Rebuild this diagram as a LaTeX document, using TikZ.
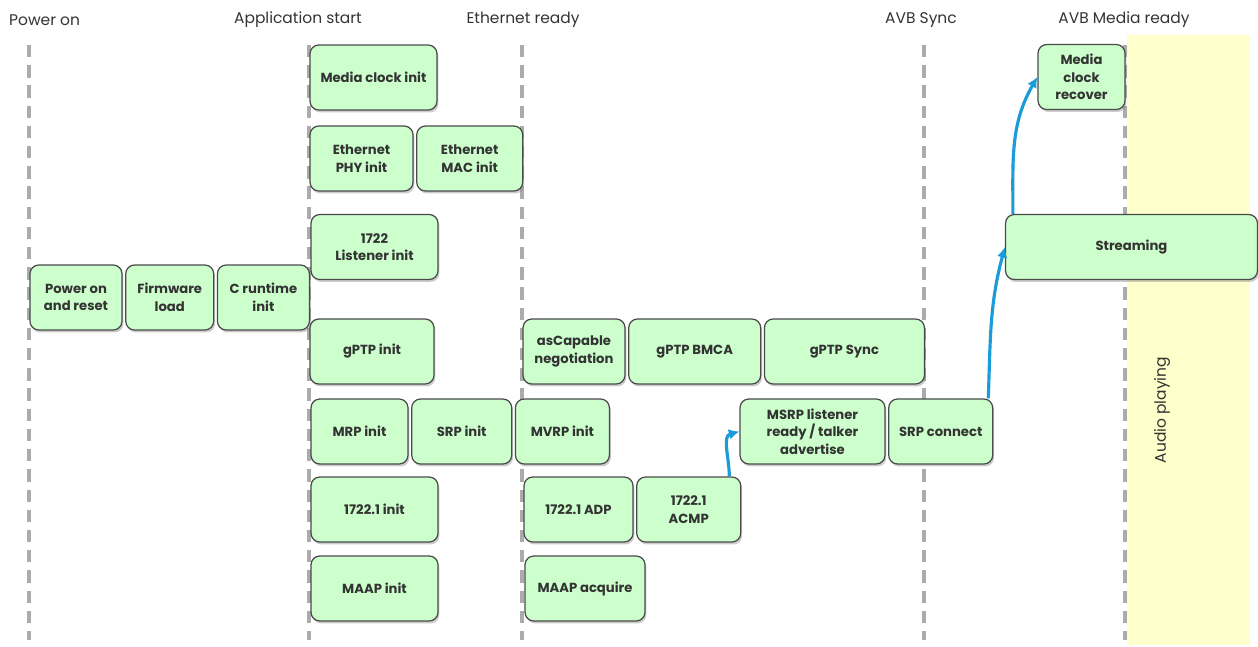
\documentclass[tikz,border=0pt]{standalone}
\usepackage{fontspec}
\setmainfont{Poppins}
\usetikzlibrary{arrows.meta, positioning, shadows}
\definecolor{boxfill}{HTML}{CCFFCC}
\definecolor{boxline}{HTML}{4A4A4A}
\definecolor{arrblue}{HTML}{1B9BD9}
\definecolor{bandyellow}{HTML}{FFFFCC}
\definecolor{phasegray}{HTML}{ABABAB}
\definecolor{txtgray}{HTML}{333333}

\begin{document}
\begin{tikzpicture}[x=0.02cm, y=-0.02cm,
    box/.style={draw=boxline, fill=boxfill, rounded corners=5pt, line width=0.7pt,
      align=center, inner sep=1pt, text=txtgray, minimum height=1.3cm,
      font=\fontsize{7.5}{10}\selectfont\bfseries,
      drop shadow={shadow xshift=0.8pt, shadow yshift=-1.4pt, opacity=0.4}},
    arr/.style={-{Latex[length=6pt, width=6pt]}, line width=1.8pt, arrblue},
    lab/.style={font=\fontsize{8.8}{10}\selectfont, text=txtgray},
    phase/.style={phasegray, line width=1.8pt, dash pattern=on 7pt off 4.5pt}
  ]
    \useasboundingbox (0,0) rectangle (1258,646);
    % audio band
    \fill[bandyellow] (1127,35) rectangle (1250,645);
    \node[lab, rotate=90] (audio) at (1162,410) {Audio playing};
    % milestones
    \foreach \x in {29,309,522,924,1125}
      \draw[phase] (\x,45) -- (\x,640);
    \node[lab, anchor=west] (m0) at (3,20) {Power on};
    \node[lab] (m1) at (298,20) {Application start};
    \node[lab] (m2) at (523,20) {Ethernet ready};
    \node[lab] (m3) at (921,20) {AVB Sync};
    \node[lab] (m4) at (1124,20) {AVB Media ready};
    % boot
    \node[box, minimum width=1.84cm] (por) at (76,297.5) {Power on\\and reset};
    \node[box, minimum width=1.76cm, right=0.05cm of por] (fw) {Firmware\\load};
    \node[box, minimum width=1.84cm, right=0.05cm of fw] (crt) {C runtime\\init};
    % application init
    \node[box, minimum width=2.54cm] (mci) at (373.5,77.5) {Media clock init};
    \node[box, minimum width=2.06cm] (phy) at (361.5,158.5) {Ethernet\\PHY init};
    \node[box, minimum width=2.12cm, right=0.05cm of phy] (mac) {Ethernet\\MAC init};
    \node[box, minimum width=2.54cm] (lst) at (374.5,247) {1722\\Listener init};
    \node[box, minimum width=2.48cm] (gpi) at (372,351.5) {gPTP init};
    \node[box, minimum width=1.94cm] (mrp) at (359.5,431.5) {MRP init};
    \node[box, minimum width=2cm, right=0.05cm of mrp] (srpi) {SRP init};
    \node[box, minimum width=1.88cm, right=0.05cm of srpi] (mvrp) {MVRP init};
    \node[box, minimum width=2.54cm] (aemi) at (374.5,509.5) {1722.1 init};
    \node[box, minimum width=2.54cm] (maapi) at (374.5,588.5) {MAAP init};
    % network bring-up
    \node[box, minimum width=2.04cm] (ascap) at (574,351.5) {asCapable\\negotiation};
    \node[box, minimum width=2.64cm, right=0.05cm of ascap] (bmca) {gPTP BMCA};
    \node[box, minimum width=3.2cm, right=0.05cm of bmca] (sync) {gPTP Sync};
    \node[box, minimum width=2.18cm] (adp) at (578.5,509.5) {1722.1 ADP};
    \node[box, minimum width=2.08cm, right=0.05cm of adp] (acmp) {1722.1\\ACMP};
    \node[box, minimum width=2.4cm] (maapa) at (585,588.5) {MAAP acquire};
    \node[box, minimum width=2.9cm] (msrp) at (812.5,431.5)
      {MSRP listener\\ready / talker\\advertise};
    \node[box, minimum width=2.08cm, right=0.05cm of msrp] (srpc) {SRP connect};
    % media
    \node[box, minimum width=5.04cm] (strm) at (1131.5,247) {Streaming};
    \node[box, minimum width=1.74cm] (mcr) at (1081.5,77) {Media\\clock\\recover};
    % hand-offs
    \draw[arr] ([xshift=-0.24cm]acmp.north east) to[out=90, in=195] (msrp.west);
    \draw[arr] ([xshift=-0.1cm]srpc.north east) to[out=88, in=255] (strm.west);
    \draw[arr] ([xshift=0.16cm]strm.north west) to[out=90, in=240] (mcr.west);
  \end{tikzpicture}
\end{document}
